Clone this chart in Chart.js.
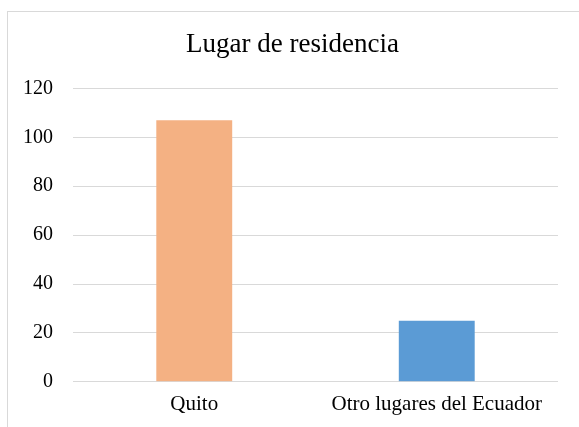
<!DOCTYPE html>
<html>
<head>
<meta charset="utf-8">
<script src="https://cdn.jsdelivr.net/npm/chart.js@4/dist/chart.umd.min.js"></script>
<style>
  html, body { margin: 0; padding: 0; background: #fff; }
  #wrap { position: relative; width: 579px; height: 427px; overflow: hidden; }
  #frame { position: absolute; left: 7px; top: 11px; width: 640px; height: 480px; border: 1px solid #d9d9d9; box-sizing: border-box; }
  #c { position: absolute; left: 0; top: 0; }
</style>
</head>
<body>
<div id="wrap">
  <div id="frame"></div>
  <canvas id="c" width="579" height="427"></canvas>
</div>
<script>
const categories = ["Quito", "Otro lugares del Ecuador"];
const values = [107, 25];
const barColors = ["#F4B183", "#5B9BD5"];
const yTicks = [0, 20, 40, 60, 80, 100, 120];
const titleText = "Lugar de residencia";

const serif = "'Liberation Serif', 'Times New Roman', Times, serif";

new Chart(document.getElementById('c'), {
  type: 'bar',
  data: {
    labels: categories,
    datasets: [{
      data: values,
      backgroundColor: barColors,
      borderWidth: 0,
      categoryPercentage: 1.0,
      barPercentage: 0.313
    }]
  },
  options: {
    responsive: false,
    animation: false,
    devicePixelRatio: 1,
    layout: { padding: { left: 20, right: 14, top: 10, bottom: 0 } },
    plugins: {
      legend: { display: false },
      tooltip: { enabled: false },
      title: {
        display: true,
        text: titleText,
        color: '#000',
        font: { family: serif, size: 27, weight: 'normal' },
        padding: { top: 19, bottom: 27 }
      }
    },
    scales: {
      x: {
        grid: { display: false, drawTicks: false },
        border: { display: false },
        ticks: { color: '#000', font: { family: serif, size: 21 }, padding: 10, maxRotation: 0 }
      },
      y: {
        min: yTicks[0],
        max: yTicks[yTicks.length - 1],
        afterBuildTicks: (axis) => { axis.ticks = yTicks.map(v => ({ value: v })); },
        afterFit: (axis) => { axis.width = 53; },
        grid: { color: '#d9d9d9', lineWidth: 1, drawTicks: false },
        border: { display: false },
        ticks: { color: '#000', font: { family: serif, size: 20 }, padding: 20 }
      },
      yRight: {
        type: 'linear',
        position: 'right',
        display: true,
        grid: { display: false, drawTicks: false },
        border: { display: false },
        ticks: { display: false },
        afterFit: (axis) => { axis.width = 7; }
      }
    }
  }
});
</script>
</body>
</html>
